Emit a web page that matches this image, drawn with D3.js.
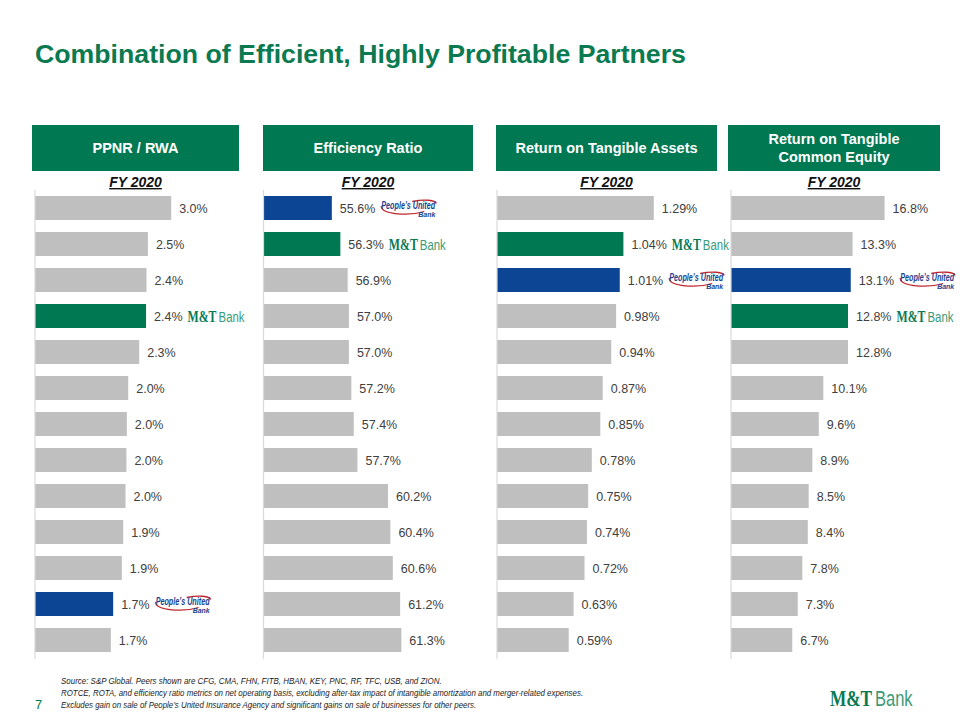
<!DOCTYPE html>
<html>
<head>
<meta charset="utf-8">
<script src="https://cdn.jsdelivr.net/npm/d3@7"></script>
<style>
  html, body { margin: 0; padding: 0; background: #fff; }
  svg { display: block; font-family: "Liberation Sans", Arial, sans-serif; }
</style>
</head>
<body>
<svg id="chart" width="960" height="720"></svg>
<script>
// ---------- DATA ----------
const chartTitle = "Combination of Efficient, Highly Profitable Partners";
const panelTitles = [["PPNR / RWA"], ["Efficiency Ratio"], ["Return on Tangible Assets"], ["Return on Tangible", "Common Equity"]];
const periodLabel = "FY 2020";
const ppnrRwa = [2.98, 2.47, 2.44, 2.43, 2.28, 2.04, 2.01, 2.00, 1.98, 1.93, 1.90, 1.71, 1.66];
const efficiencyRatio = [55.6, 56.3, 56.9, 57.0, 57.0, 57.2, 57.4, 57.7, 60.2, 60.4, 60.6, 61.2, 61.3];
const returnOnTangibleAssets = [1.29, 1.04, 1.01, 0.98, 0.94, 0.87, 0.85, 0.78, 0.75, 0.74, 0.72, 0.63, 0.59];
const returnOnTangibleCommonEquity = [16.8, 13.3, 13.1, 12.8, 12.8, 10.1, 9.6, 8.9, 8.5, 8.4, 7.8, 7.3, 6.7];
const valueFormats = [".1f", ".1f", ".2f", ".1f"];
const mtIndex = [3, 1, 1, 3];   // M&T Bank bar in each panel
const puIndex = [11, 0, 2, 2];  // People's United bar in each panel
const footnotes = [
  "Source: S&P Global.  Peers shown are CFG, CMA, FHN, FITB, HBAN, KEY, PNC, RF, TFC, USB, and ZION.",
  "ROTCE, ROTA, and efficiency ratio metrics on net operating basis, excluding after-tax impact of intangible amortization and merger-related expenses.",
  "Excludes gain on sale of People\u2019s United Insurance Agency and significant gains on sale of businesses for other peers."
];
const pageNumber = "7";

// ---------- LAYOUT / STYLE ----------
const series = [ppnrRwa, efficiencyRatio, returnOnTangibleAssets, returnOnTangibleCommonEquity];
const GREEN = "#007852", BLUE = "#0B4594", GRAY = "#BFBFBF";
const panels = [
  { boxX: 32, boxW: 207, axisX: 35, domain: [0, 3], range: 137.1 },
  { boxX: 263, boxW: 210, axisX: 263.5, domain: [50, 62], range: 146.4 },
  { boxX: 496, boxW: 221, axisX: 497, domain: [0, 1.3], range: 158 },
  { boxX: 728, boxW: 212, axisX: 731, domain: [0, 17], range: 155.4 }
];

const svg = d3.select("#chart");

// text squeezed horizontally to a target width (via transform, so its box is true)
function fitText(parent, x, y, width, text, attrs) {
  const gg = parent.append("g");
  const t = gg.append("text").attr("x", 0).attr("y", 0).text(text);
  Object.entries(attrs || {}).forEach(([k, v]) => t.attr(k, v));
  const natural = t.node().getComputedTextLength();
  const sx = natural > 0 ? width / natural : 1;
  const anchorEnd = attrs && attrs["text-anchor"] === "end";
  gg.attr("transform", `translate(${x},${y}) scale(${sx},1)`);
  return gg;
}

svg.append("text")
  .attr("x", 35).attr("y", 63)
  .attr("font-size", 26.7).attr("font-weight", "bold")
  .attr("fill", "#0B7A50")
  .text(chartTitle);

const y = d3.scaleBand()
  .domain(d3.range(13))
  .range([190, 658])
  .paddingInner(1 / 3)
  .paddingOuter(1 / 6);

function drawMT(g, x, cy, size) {
  const s = size || 1;
  const lg = g.append("g").attr("transform", `translate(${x},${cy})`);
  fitText(lg, 0, 5.5 * s, 29 * s, "M&T", {
    "font-family": "'Liberation Serif', 'DejaVu Serif', serif",
    "font-weight": "bold", "font-size": 16 * s, "fill": "#0A7A52"
  });
  fitText(lg, 31 * s, 5.5 * s, 26 * s, "Bank", {
    "font-size": 15 * s, "fill": "#3C9A78"
  });
}

function drawPU(g, x, cy) {
  const lg = g.append("g").attr("transform", `translate(${x},${cy})`);
  lg.append("path")
    .attr("d", "M1,-2 C1,7 30,8 44,3.5 M32,-6.5 C44,-9 55,-8 56,-4.5")
    .attr("fill", "none").attr("stroke", "#C0272D").attr("stroke-width", 1.3);
  fitText(lg, 1, 1, 54, "People\u2019s United", {
    "font-weight": "bold", "font-style": "italic", "font-size": 10, "fill": "#1B3F8F"
  });
  fitText(lg, 38, 9, 17, "Bank", {
    "font-weight": "bold", "font-style": "italic", "font-size": 8, "fill": "#1B3F8F"
  });
}

panels.forEach((p, i) => {
  const g = svg.append("g");
  const data = series[i];
  const x = d3.scaleLinear().domain(p.domain).range([p.axisX, p.axisX + p.range]);
  const fmt = d3.format(valueFormats[i]);

  // header box
  g.append("rect")
    .attr("x", p.boxX).attr("y", 125).attr("width", p.boxW).attr("height", 46)
    .attr("fill", GREEN);
  const lines = panelTitles[i];
  lines.forEach((t, k) => {
    g.append("text")
      .attr("x", p.boxX + p.boxW / 2)
      .attr("y", lines.length === 1 ? 153 : 144 + k * 18)
      .attr("text-anchor", "middle")
      .attr("font-size", 14.5).attr("font-weight", "bold")
      .attr("fill", "#fff")
      .text(t);
  });

  // period label
  g.append("text")
    .attr("x", p.boxX + p.boxW / 2).attr("y", 187)
    .attr("text-anchor", "middle")
    .attr("font-size", 14).attr("font-weight", "bold").attr("font-style", "italic")
    .attr("text-decoration", "underline")
    .attr("fill", "#111")
    .text(periodLabel);

  // bars
  g.selectAll("rect.bar").data(data).join("rect")
    .attr("class", "bar")
    .attr("x", x(p.domain[0]))
    .attr("y", (d, j) => y(j))
    .attr("width", d => x(d) - x(p.domain[0]))
    .attr("height", y.bandwidth())
    .attr("fill", (d, j) => j === mtIndex[i] ? GREEN : (j === puIndex[i] ? BLUE : GRAY));

  // axis line
  g.append("line")
    .attr("x1", p.axisX).attr("x2", p.axisX)
    .attr("y1", 190).attr("y2", 659)
    .attr("stroke", "#D9D9D9").attr("stroke-width", 1.2);

  // value labels
  const labels = g.selectAll("text.val").data(data).join("text")
    .attr("class", "val")
    .attr("x", d => x(d) + 8)
    .attr("y", (d, j) => y(j) + y.bandwidth() / 2)
    .attr("dy", "0.36em")
    .attr("font-size", 12.5)
    .attr("fill", "#404040")
    .text(d => fmt(d) + "%");

  labels.each(function (d, j) {
    const end = x(d) + 8 + this.getComputedTextLength();
    const cy = y(j) + y.bandwidth() / 2;
    if (j === mtIndex[i]) drawMT(g, end + 5, cy);
    if (j === puIndex[i]) drawPU(g, end + 5, cy);
  });
});

// footnotes
const footLengths = [381, 523, 416];
footnotes.forEach((t, k) => {
  fitText(svg, 61, 684 + k * 12, footLengths[k], t, {
    "font-size": 9, "font-style": "italic", "fill": "#222"
  });
});

svg.append("text")
  .attr("x", 35).attr("y", 709)
  .attr("font-size", 13)
  .attr("fill", "#0B7A50")
  .text(pageNumber);

drawMT(svg, 830, 698, 1.45);
</script>
</body>
</html>
